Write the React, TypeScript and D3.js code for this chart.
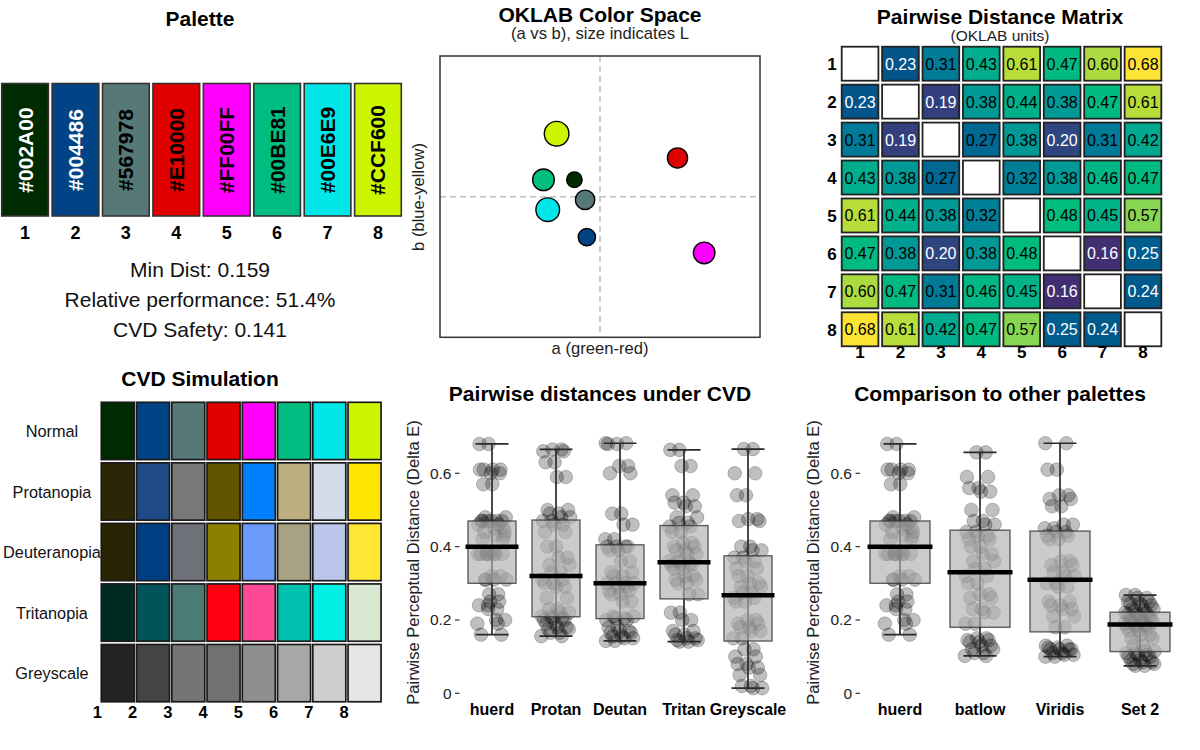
import React from "react";
import * as d3 from "d3";

const FONT = "'Liberation Sans', Arial, Helvetica, sans-serif";

// ---------- data ----------
const paletteHex = ["#002A00", "#004486", "#567978", "#E10000", "#FF00FF", "#00BE81", "#00E6E9", "#CCF600"];
const indexLabels = ["1", "2", "3", "4", "5", "6", "7", "8"];
const statLines = ["Min Dist: 0.159", "Relative performance: 51.4%", "CVD Safety: 0.141"];

// OKLAB coordinates
const okA = [-0.072, -0.037, -0.042, 0.218, 0.293, -0.159, -0.147, -0.122];
const okB = [0.048, -0.115, -0.009, 0.11, -0.16, 0.048, -0.037, 0.179];
const okL = [0.27, 0.4, 0.55, 0.6, 0.7, 0.71, 0.85, 0.92];

const distMatrix: (number | null)[][] = [
  [null, 0.23, 0.31, 0.43, 0.61, 0.47, 0.6, 0.68],
  [0.23, null, 0.19, 0.38, 0.44, 0.38, 0.47, 0.61],
  [0.31, 0.19, null, 0.27, 0.38, 0.2, 0.31, 0.42],
  [0.43, 0.38, 0.27, null, 0.32, 0.38, 0.46, 0.47],
  [0.61, 0.44, 0.38, 0.32, null, 0.48, 0.45, 0.57],
  [0.47, 0.38, 0.2, 0.38, 0.48, null, 0.16, 0.25],
  [0.6, 0.47, 0.31, 0.46, 0.45, 0.16, null, 0.24],
  [0.68, 0.61, 0.42, 0.47, 0.57, 0.25, 0.24, null],
];

const cvdRows = ["Normal", "Protanopia", "Deuteranopia", "Tritanopia", "Greyscale"];
const cvdNormal = paletteHex;
const cvdProtan = ["#2B2606", "#1E4A87", "#787878", "#625500", "#0080FF", "#BCAE80", "#D4DBEB", "#FFE600"];
const cvdDeutan = ["#282404", "#003E84", "#6E7178", "#8D7F00", "#6B9BFB", "#A8A285", "#BAC7EA", "#FFE534"];
const cvdTritan = ["#002A22", "#00545A", "#4C7B76", "#FF0010", "#FF4896", "#00C0B0", "#00F0E6", "#D9E8D0"];
const cvdGrey = ["#232323", "#444444", "#757575", "#717171", "#8F8F8F", "#A8A8A8", "#CFCFCF", "#E6E6E6"];
const cvdColors = [cvdNormal, cvdProtan, cvdDeutan, cvdTritan, cvdGrey];

const huerdDist: number[] = [];
distMatrix.forEach((row, i) => row.forEach((v, j) => { if (j > i && v != null) huerdDist.push(v); }));
const protanDist = [0.156, 0.165, 0.175, 0.18, 0.19, 0.2, 0.205, 0.21, 0.22, 0.23, 0.26, 0.29, 0.3, 0.31, 0.33, 0.35, 0.37, 0.4, 0.44, 0.46, 0.47, 0.48, 0.49, 0.5, 0.59, 0.63, 0.66, 0.665];
const deutanDist = [0.143, 0.15, 0.155, 0.165, 0.17, 0.18, 0.2, 0.205, 0.21, 0.25, 0.27, 0.28, 0.29, 0.3, 0.3, 0.32, 0.33, 0.36, 0.39, 0.4, 0.4, 0.42, 0.46, 0.49, 0.6, 0.62, 0.68, 0.682];
const tritanDist = [0.141, 0.145, 0.15, 0.16, 0.17, 0.2, 0.22, 0.27, 0.3, 0.31, 0.32, 0.34, 0.35, 0.355, 0.36, 0.38, 0.39, 0.4, 0.41, 0.44, 0.455, 0.465, 0.48, 0.51, 0.52, 0.54, 0.62, 0.664];
const greyDist = [0.014, 0.02, 0.05, 0.07, 0.08, 0.1, 0.12, 0.15, 0.17, 0.18, 0.19, 0.2, 0.25, 0.26, 0.275, 0.29, 0.3, 0.32, 0.34, 0.36, 0.37, 0.39, 0.4, 0.47, 0.475, 0.54, 0.6, 0.666];
const batlowDist = [0.102, 0.11, 0.12, 0.13, 0.14, 0.145, 0.15, 0.19, 0.22, 0.23, 0.26, 0.27, 0.3, 0.32, 0.34, 0.36, 0.38, 0.4, 0.42, 0.43, 0.44, 0.46, 0.47, 0.5, 0.55, 0.56, 0.59, 0.657];
const viridisDist = [0.1, 0.105, 0.11, 0.12, 0.12, 0.125, 0.13, 0.18, 0.21, 0.23, 0.24, 0.25, 0.29, 0.3, 0.32, 0.33, 0.35, 0.36, 0.42, 0.43, 0.44, 0.45, 0.46, 0.51, 0.53, 0.54, 0.61, 0.682];
const set2Dist = [0.075, 0.08, 0.085, 0.09, 0.1, 0.105, 0.11, 0.115, 0.13, 0.15, 0.16, 0.17, 0.18, 0.185, 0.19, 0.195, 0.2, 0.205, 0.21, 0.215, 0.22, 0.225, 0.23, 0.24, 0.245, 0.25, 0.26, 0.268];

const cvdCats = ["huerd", "Protan", "Deutan", "Tritan", "Greyscale"];
const cvdSeries = [huerdDist, protanDist, deutanDist, tritanDist, greyDist];
const cmpCats = ["huerd", "batlow", "Viridis", "Set 2"];
const cmpSeries = [huerdDist, batlowDist, viridisDist, set2Dist];
const yTicks = [0, 0.2, 0.4, 0.6];

// ---------- colour helpers ----------
function polarLuvHex(L: number, C: number, H: number): string {
  const hr = (H * Math.PI) / 180;
  const U = C * Math.cos(hr);
  const V = C * Math.sin(hr);
  const Xn = 0.95047, Yn = 1, Zn = 1.08883;
  const den = Xn + 15 * Yn + 3 * Zn;
  const un = (4 * Xn) / den, vn = (9 * Yn) / den;
  const Y = L > 8 ? Math.pow((L + 16) / 116, 3) : L / 903.2963;
  const u = U / (13 * L) + un;
  const v = V / (13 * L) + vn;
  const X = (9 * Y * u) / (4 * v);
  const Z = -X / 3 - 5 * Y + (3 * Y) / v;
  const lin = [
    3.2404542 * X - 1.5371385 * Y - 0.4985314 * Z,
    -0.969266 * X + 1.8760108 * Y + 0.041556 * Z,
    0.0556434 * X - 0.2040259 * Y + 1.0572252 * Z,
  ];
  const g = lin.map((c) => {
    const cc = Math.max(0, Math.min(1, c));
    const s = cc <= 0.0031308 ? 12.92 * cc : 1.055 * Math.pow(cc, 1 / 2.4) - 0.055;
    return Math.round(Math.max(0, Math.min(1, s)) * 255);
  });
  return d3.rgb(g[0], g[1], g[2]).formatHex();
}
function hclViridis(t: number): string {
  const i = 1 - Math.max(0, Math.min(1, t));
  return polarLuvHex(90 - 75 * Math.pow(i, 1.1), 95 - 55 * i, 75 + 225 * i);
}
const matrixFill = d3.scaleSequential((t: number) => hclViridis(t)).domain([0.09, 0.68]);

// deterministic horizontal spread for the jittered points
const spread = (k: number) => (((k * 0.6180339887 + 0.37) % 1) * 2 - 1);

// ---------- panels ----------
function PalettePanel() {
  const x = d3.scaleBand<string>().domain(indexLabels).range([1.7, 401.7]).paddingInner(0.066).paddingOuter(0);
  return (
    <g>
      <text x={200} y={26} textAnchor="middle" fontWeight="bold" fontSize={21}>Palette</text>
      {paletteHex.map((c, i) => {
        const x0 = x(indexLabels[i])!;
        const w = 46.7;
        const cx = x0 + w / 2;
        const dark = d3.hsl(c).l < 0.3;
        return (
          <g key={c}>
            <rect x={x0} y={83.5} width={w} height={132.5} fill={c} stroke="#333" strokeWidth={1.6} />
            <text transform={`translate(${cx},150) rotate(-90)`} textAnchor="middle" dominantBaseline="central"
              fontWeight="bold" fontSize={21} fill={dark ? "#fff" : "#000"}>{c}</text>
            <text x={cx} y={239.3} textAnchor="middle" fontWeight="bold" fontSize={18}>{indexLabels[i]}</text>
          </g>
        );
      })}
      {statLines.map((s, i) => (
        <text key={s} x={200} y={276.7 + 30 * i} textAnchor="middle" fontSize={21} fill="#111">{s}</text>
      ))}
    </g>
  );
}

function OklabPanel() {
  const x = d3.scaleLinear().domain([-0.45, 0.45]).range([440, 760]);
  const y = d3.scaleLinear().domain([-0.4, 0.4]).range([337.3, 56]);
  const r = d3.scaleLinear().domain([0, 1]).range([5.8, 12.9]);
  return (
    <g>
      <text x={600} y={21.7} textAnchor="middle" fontWeight="bold" fontSize={21}>OKLAB Color Space</text>
      <text x={600} y={39.3} textAnchor="middle" fontSize={16.6} fill="#222">(a vs b), size indicates L</text>
      <line x1={x(0)} x2={x(0)} y1={56} y2={337.3} stroke="#bdbdbd" strokeWidth={1.5} strokeDasharray="6,4" />
      <line x1={440} x2={760} y1={y(0)} y2={y(0)} stroke="#bdbdbd" strokeWidth={1.5} strokeDasharray="6,4" />
      <rect x={440} y={56} width={320} height={281.3} fill="none" stroke="#333" strokeWidth={1.5} />
      {paletteHex.map((c, i) => (
        <circle key={c} cx={x(okA[i])} cy={y(okB[i])} r={r(okL[i])} fill={c} stroke="#000" strokeWidth={1.4} />
      ))}
      <text x={600} y={354} textAnchor="middle" fontSize={16.6} fill="#222">a (green-red)</text>
      <text transform={`translate(424,197) rotate(-90)`} textAnchor="middle" fontSize={16.6} fill="#222">b (blue-yellow)</text>
    </g>
  );
}

function MatrixPanel() {
  const x = d3.scaleBand<string>().domain(indexLabels).range([841.7, 1161.7]).paddingInner(0.0825).paddingOuter(0);
  const y = d3.scaleBand<string>().domain(indexLabels).range([46.7, 346.7]).paddingInner(0.093).paddingOuter(0);
  const cw = 36.7, ch = 34;
  return (
    <g>
      <text x={1000} y={24} textAnchor="middle" fontWeight="bold" fontSize={21}>Pairwise Distance Matrix</text>
      <text x={1000} y={41.3} textAnchor="middle" fontSize={15.5} fill="#222">(OKLAB units)</text>
      {distMatrix.map((row, i) =>
        row.map((v, j) => {
          const x0 = x(indexLabels[j])!;
          const y0 = y(indexLabels[i])!;
          return (
            <g key={`${i}-${j}`}>
              <rect x={x0} y={y0} width={cw} height={ch} fill={v == null ? "#fff" : matrixFill(v)} stroke="#222" strokeWidth={1.8} />
              {v != null && (
                <text x={x0 + cw / 2} y={y0 + ch / 2 + 6} textAnchor="middle" fontSize={16} fill={v < 0.26 ? "#fff" : "#000"}>
                  {v.toFixed(2)}
                </text>
              )}
            </g>
          );
        })
      )}
      {indexLabels.map((l) => (
        <text key={`r${l}`} x={832} y={y(l)! + ch / 2 + 6.3} textAnchor="middle" fontWeight="bold" fontSize={17}>{l}</text>
      ))}
      {indexLabels.map((l) => (
        <text key={`c${l}`} x={x(l)! + cw / 2} y={358.3} textAnchor="middle" fontWeight="bold" fontSize={17}>{l}</text>
      ))}
    </g>
  );
}

function CvdPanel() {
  const x = d3.scaleBand<string>().domain(indexLabels).range([101.3, 381.3]).paddingInner(0.057).paddingOuter(0);
  const y = d3.scaleBand<string>().domain(cvdRows).range([402.3, 702.3]).paddingInner(0.045).paddingOuter(0);
  const cw = 33, ch = 57.3;
  return (
    <g>
      <text x={200} y={386} textAnchor="middle" fontWeight="bold" fontSize={21}>CVD Simulation</text>
      {cvdRows.map((row, ri) => (
        <g key={row}>
          <text x={52} y={y(row)! + ch / 2 + 6.3} textAnchor="middle" fontSize={16.3} fill="#111">{row}</text>
          {cvdColors[ri].map((c, ci) => (
            <rect key={ci} x={x(indexLabels[ci])!} y={y(row)!} width={cw} height={ch} fill={c} stroke="#1a1a1a" strokeWidth={1.7} />
          ))}
        </g>
      ))}
      {indexLabels.map((l) => (
        <text key={l} x={x(l)! - 4} y={718.3} textAnchor="middle" fontWeight="bold" fontSize={16.5}>{l}</text>
      ))}
    </g>
  );
}

function BoxPanel(props: {
  cats: string[]; series: number[][]; range: [number, number]; title: string; titleX: number;
  axisX: number; yTitleX: number; spreadFrac: number;
}) {
  const { cats, series, range, title, titleX, axisX, yTitleX, spreadFrac } = props;
  const x = d3.scaleBand<string>().domain(cats).range(range);
  const y = d3.scaleLinear().domain([0, 0.6]).range([693.3, 473.3]);
  const bw = x.bandwidth();
  const boxW = bw * 0.75;
  const capW = 33;
  return (
    <g>
      <text x={titleX} y={400.7} textAnchor="middle" fontWeight="bold" fontSize={21}>{title}</text>
      {yTicks.map((t) => (
        <g key={t}>
          <line x1={axisX - 4.5} x2={axisX} y1={y(t)} y2={y(t)} stroke="#333" strokeWidth={1.2} />
          <text x={axisX - 8} y={y(t) + 5.5} textAnchor="end" fontSize={15.5} fill="#222">{t === 0 ? "0" : t.toFixed(1)}</text>
        </g>
      ))}
      <text transform={`translate(${yTitleX},562.5) rotate(-90)`} textAnchor="middle" fontSize={16.5} fill="#222">
        Pairwise Perceptual Distance (Delta E)
      </text>
      {cats.map((c, ci) => {
        const vals = series[ci];
        const cx = x(c)! + bw / 2;
        const sorted = [...vals].sort((a, b) => a - b);
        const q1 = d3.quantile(sorted, 0.25)!;
        const med = d3.quantile(sorted, 0.5)!;
        const q3 = d3.quantile(sorted, 0.75)!;
        const lo = d3.min(sorted)!;
        const hi = d3.max(sorted)!;
        const pts = [...vals, ...vals];
        return (
          <g key={c}>
            {pts.map((v, k) => (
              <circle key={k} cx={cx + spread(k + ci * 7) * spreadFrac * bw} cy={y(v)} r={6.8}
                fill="rgba(0,0,0,0.25)" stroke="rgba(0,0,0,0.22)" strokeWidth={1} />
            ))}
            <line x1={cx} x2={cx} y1={y(lo)} y2={y(hi)} stroke="#2a2a2a" strokeWidth={1.7} />
            <line x1={cx - capW / 2} x2={cx + capW / 2} y1={y(lo)} y2={y(lo)} stroke="#2a2a2a" strokeWidth={1.7} />
            <line x1={cx - capW / 2} x2={cx + capW / 2} y1={y(hi)} y2={y(hi)} stroke="#2a2a2a" strokeWidth={1.7} />
            <rect x={cx - boxW / 2} y={y(q3)} width={boxW} height={y(q1) - y(q3)}
              fill="rgba(178,178,178,0.67)" stroke="rgba(50,50,50,0.75)" strokeWidth={1.4} />
            <line x1={cx - boxW / 2 - 2.5} x2={cx + boxW / 2 + 2.5} y1={y(med)} y2={y(med)} stroke="#000" strokeWidth={4.5} />
            <text x={cx} y={715} textAnchor="middle" fontWeight="bold" fontSize={16}>{c}</text>
          </g>
        );
      })}
    </g>
  );
}

export default function App() {
  return (
    <svg width={1200} height={750} viewBox="0 0 1200 750"
      style={{ position: "absolute", left: 0, top: 0, background: "#fff", fontFamily: FONT }}>
      <rect x={0} y={0} width={1200} height={750} fill="#fff" />
      <PalettePanel />
      <OklabPanel />
      <MatrixPanel />
      <CvdPanel />
      <BoxPanel cats={cvdCats} series={cvdSeries} range={[460, 780]} title="Pairwise distances under CVD" titleX={600}
        axisX={459.5} yTitleX={418.5} spreadFrac={0.23} />
      <BoxPanel cats={cmpCats} series={cmpSeries} range={[860, 1180]} title="Comparison to other palettes" titleX={1000}
        axisX={860} yTitleX={818.5} spreadFrac={0.19} />
    </svg>
  );
}
